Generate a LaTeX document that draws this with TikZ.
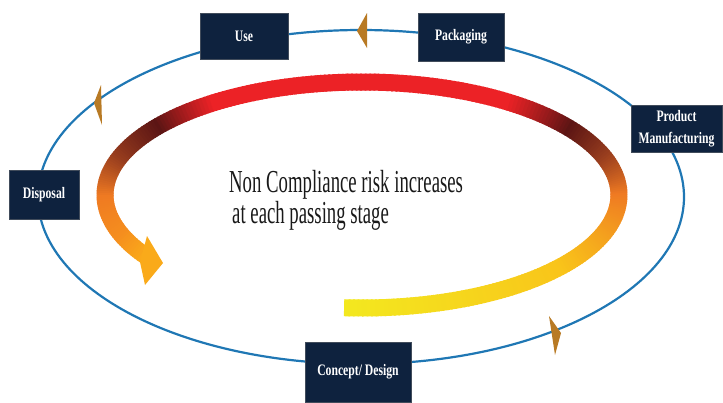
\documentclass[tikz,border=0pt]{standalone}
\usepackage{fontspec}
\setmainfont{Liberation Serif}
\definecolor{navy}{RGB}{14,34,62}
\definecolor{ringblue}{RGB}{31,119,180}
\definecolor{markc}{RGB}{184,122,36}
\definecolor{cY}{RGB}{243,232,31}
\definecolor{cYO}{RGB}{249,196,26}
\definecolor{cO}{RGB}{239,122,34}
\definecolor{cB}{RGB}{150,60,30}
\definecolor{cD}{RGB}{92,21,20}
\definecolor{cR}{RGB}{236,34,38}
\definecolor{cOY}{RGB}{245,142,30}
\definecolor{cA}{RGB}{250,170,26}
\tikzset{
  stagebox/.style={fill=navy, draw=gray!45!navy, line width=0.6pt, text=white,
    font=\bfseries\fontsize{16}{22}\selectfont, inner sep=0pt, align=center},
  marker/.style={fill=markc},
  maintext/.style={anchor=base west, inner sep=0pt, text=black!90,
    font=\fontsize{32}{32}\selectfont}
}
\newcommand{\cond}[1]{\scalebox{0.73}[1]{#1}}
\begin{document}
\begin{tikzpicture}[x=1pt,y=-1pt]
\useasboundingbox (0,0) rectangle (723,402);
% outer cycle
\draw[ringblue, line width=2.2pt] (361,197) ellipse [x radius=323pt, y radius=167pt];
% direction markers
\fill[marker] (367,13) -- (357,31) -- (367,48) -- cycle;
\fill[marker] (101,85) -- (94,103) -- (102,125) -- cycle;
\fill[marker] (549,316) -- (561,333) -- (555,355) -- cycle;
% gradient band
\foreach \a/\b/\ca/\cb in {-94/-40/cY/cYO, -40/0/cYO/cO, 0/20/cO/cB, 20/36/cB/cD, 36/55/cD/cR, 55/125/cR/cR, 125/142/cR/cD, 142/160/cD/cB, 160/180/cB/cO, 180/200/cO/cOY, 200/212/cOY/cA}{
  \pgfmathtruncatemacro\bm{\b-1}
  \foreach \t in {\a,...,\bm}{
    \pgfmathsetmacro\p{(\t-\a)/(\b-\a)*100}
    \draw[line width=17pt, color=\cb!\p!\ca]
      ({362+257*cos(\t)},{195-113*sin(\t)}) -- ({362+257*cos(\t+1.4)},{195-113*sin(\t+1.4)});
  }
}
\fill[cA] (147,236) -- (163,263) -- (145,285) -- (140,262) -- cycle;
% stages
\node[stagebox, minimum width=88pt, minimum height=46pt] (use) at (244,36) {\cond{Use}};
\node[stagebox, minimum width=86pt, minimum height=48pt] (pack) at (461,37) {\cond{Packaging}};
\node[stagebox, minimum width=91pt, minimum height=47pt] (prod) at (676.5,128.5) {\cond{\begin{tabular}{@{}c@{}}Product\\Manufacturing\end{tabular}}};
\node[stagebox, minimum width=70pt, minimum height=49pt] (disp) at (44,194.5) {\cond{Disposal}};
\node[stagebox, minimum width=106pt, minimum height=60pt] (concept) at (358,372) {\cond{Concept/ Design}};
% text
\node[maintext] (t1) at (229,192) {\scalebox{0.586}[1]{Non Compliance risk increases}};
\node[maintext] (t2) at (232,223) {\scalebox{0.586}[1]{at each passing stage}};
\end{tikzpicture}
\end{document}
